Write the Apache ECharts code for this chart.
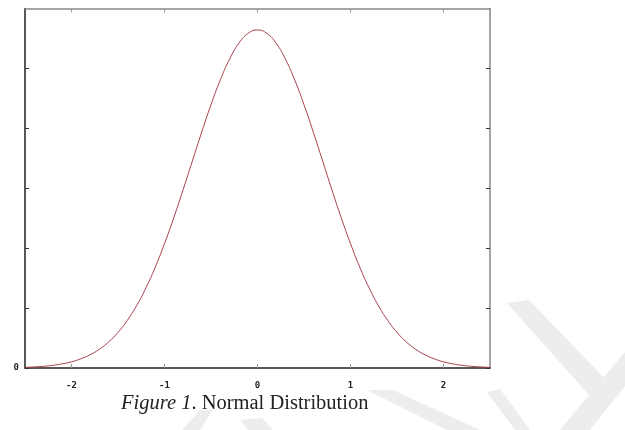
<!DOCTYPE html>
<html>
<head>
<meta charset="utf-8">
<script src="https://cdn.jsdelivr.net/npm/echarts@6/dist/echarts.min.js"></script>
<style>html,body{margin:0;padding:0;background:#fff}#c{width:625px;height:430px}</style>
</head>
<body>
<div id="c"></div>
<script>
// x positions
var xValues = [-2.5,-2.4,-2.3,-2.2,-2.1,-2.0,-1.9,-1.8,-1.7,-1.6,-1.5,-1.4,-1.3,-1.2,-1.1,-1.0,-0.9,-0.8,-0.7,-0.6,-0.5,-0.4,-0.3,-0.2,-0.1,
  0,0.1,0.2,0.3,0.4,0.5,0.6,0.7,0.8,0.9,1.0,1.1,1.2,1.3,1.4,1.5,1.6,1.7,1.8,1.9,2.0,2.1,2.2,2.3,2.4,2.5];
// curve heights
var yValues = [0.0011,0.0018,0.0028,0.0045,0.0069,0.0103,0.0153,0.0221,0.0314,0.0436,0.0595,0.0795,0.1041,0.1337,0.1682,0.2076,0.2510,0.2975,0.3457,0.3936,0.4394,0.4808,0.5156,0.5421,0.5586,
  0.5642,0.5586,0.5421,0.5156,0.4808,0.4394,0.3936,0.3457,0.2975,0.2510,0.2076,0.1682,0.1337,0.1041,0.0795,0.0595,0.0436,0.0314,0.0221,0.0153,0.0103,0.0069,0.0045,0.0028,0.0018,0.0011];
var xTicks = [-2,-1,0,1,2];
var yTicks = [0,0.1,0.2,0.3,0.4,0.5];
var yLabelTicks = [0];
var captionItalic = 'Figure 1';
var captionRest = '. Normal Distribution';

var data = xValues.map(function(x,i){return [x,yValues[i]];});
var chart = echarts.init(document.getElementById('c'), null, {renderer:'canvas'});
var wm = '#ededed';
chart.setOption({
  animation:false,
  backgroundColor:'#fff',
  grid:{left:25,right:135,top:8.5,bottom:62,containLabel:false},
  title:{
    text:'{i|'+captionItalic+'}{r|'+captionRest+'}',
    left:116, top:388,
    textStyle:{fontWeight:'normal',rich:{
      i:{fontFamily:'Liberation Serif',fontStyle:'italic',fontWeight:'normal',fontSize:20.5,color:'#222'},
      r:{fontFamily:'Liberation Serif',fontWeight:'normal',fontSize:20.5,color:'#222'}
    }}
  },
  graphic:[
    {type:'polygon',z:-10,shape:{points:[[507,303],[529,300],[612,386],[597,404]]},style:{fill:wm}},
    {type:'polygon',z:-10,shape:{points:[[560,430],[625,352],[625,386],[590,430]]},style:{fill:wm}},
    {type:'polygon',z:-10,shape:{points:[[367,390],[393,390],[480,430],[447,430]]},style:{fill:wm}},
    {type:'polygon',z:-10,shape:{points:[[487,392],[500,389],[530,430],[515,430]]},style:{fill:wm}},
    {type:'polygon',z:-10,shape:{points:[[240,420],[262,418],[273,430],[248,430]]},style:{fill:wm}},
    {type:'polygon',z:-10,shape:{points:[[200,410],[213,410],[200,430],[182,430]]},style:{fill:wm}}
  ],
  xAxis:[{
    type:'value',min:-2.5,max:2.5,position:'bottom',
    axisLine:{show:true,onZero:false,lineStyle:{color:'#222',width:1.5}},
    axisTick:{show:true,inside:true,length:4,customValues:xTicks,lineStyle:{color:'#999'}},
    axisLabel:{show:true,customValues:xTicks,margin:13,fontFamily:'DejaVu Sans Mono',fontWeight:'bold',fontSize:9,color:'#222'},
    splitLine:{show:false}
  },{
    type:'value',min:-2.5,max:2.5,position:'top',
    axisLine:{show:true,onZero:false,lineStyle:{color:'#888',width:1.5}},
    axisTick:{show:true,inside:true,length:4,customValues:xTicks,lineStyle:{color:'#999'}},
    axisLabel:{show:false},splitLine:{show:false}
  }],
  yAxis:[{
    type:'value',min:0,max:0.6,interval:0.1,position:'left',
    axisLine:{show:true,onZero:false,lineStyle:{color:'#222',width:1.5}},
    axisTick:{show:true,inside:true,length:4,customValues:yTicks,lineStyle:{color:'#333'}},
    axisLabel:{show:true,customValues:yLabelTicks,margin:6,fontFamily:'DejaVu Sans Mono',fontWeight:'bold',fontSize:9,color:'#222'},
    splitLine:{show:false}
  },{
    type:'value',min:0,max:0.6,interval:0.1,position:'right',
    axisLine:{show:true,onZero:false,lineStyle:{color:'#888',width:1.5}},
    axisTick:{show:true,inside:true,length:4,customValues:yTicks,lineStyle:{color:'#333'}},
    axisLabel:{show:false},splitLine:{show:false}
  }],
  series:[{
    type:'line',data:data,smooth:true,showSymbol:false,
    xAxisIndex:0,yAxisIndex:0,
    lineStyle:{color:'#a8404c',width:1}
  }]
});
</script>
</body>
</html>
